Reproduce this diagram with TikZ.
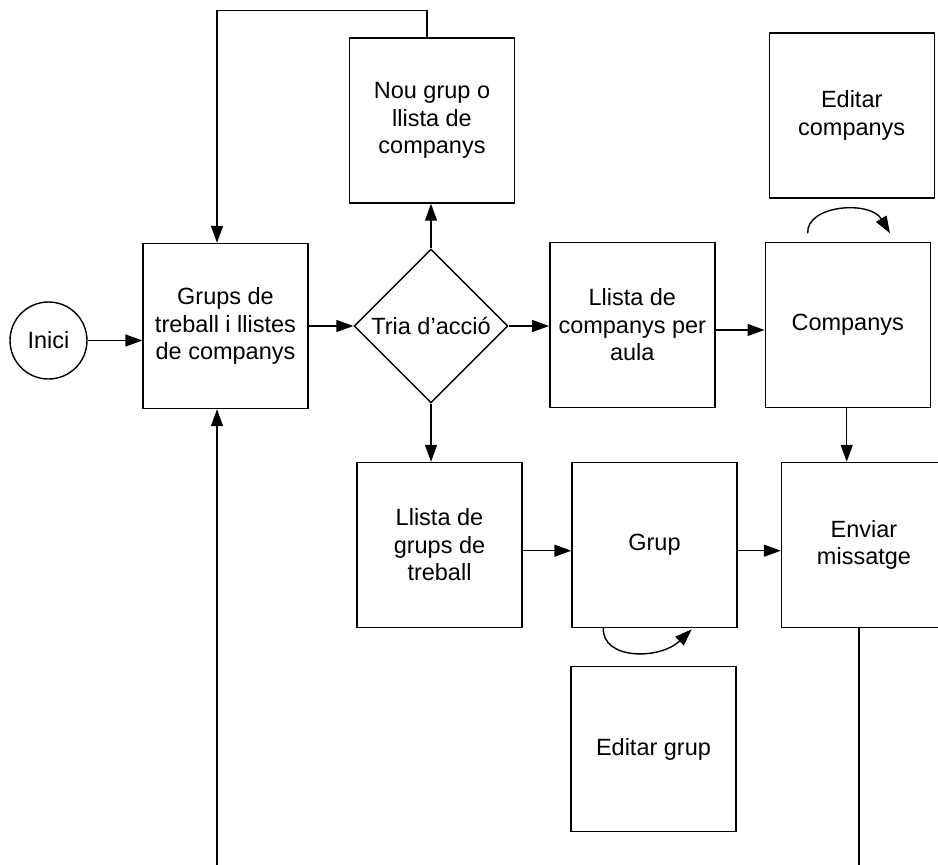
\documentclass[tikz,border=0pt]{standalone}
\usepackage{fontspec}
\setmainfont{Liberation Sans}
\usetikzlibrary{arrows.meta,shapes.geometric}
\begin{document}
\begin{tikzpicture}[x=1pt,y=-1pt,
  line width=1.4pt,
  every node/.style={font=\fontsize{23.5}{27.5}\selectfont, align=center, inner sep=0pt},
  procbox/.style={draw, rectangle, minimum width=165pt, minimum height=165pt},
  decision/.style={draw, diamond, aspect=1, minimum width=154pt, minimum height=154pt},
  terminal/.style={draw, circle, minimum size=77pt},
  arr/.style={-{Triangle[length=17pt,width=12pt]}}
]
\useasboundingbox (0,0) rectangle (938,865);
\clip (0,0) rectangle (938,865);

% nodes
\node[terminal] (inici) at (48.5,340.5) {Inici};
\node[procbox] (grups) at (225.5,326) {Grups de\\treball i llistes\\de companys};
\node[decision] (tria) at (431,326) {Tria d’acció};
\node[procbox] (nou) at (432,120.5) {Nou grup o\\llista de\\companys};
\node[procbox] (llcomp) at (632.3,325) {Llista de\\companys per\\aula};
\node[procbox] (companys) at (847.7,325) {Companys};
\node[procbox] (edcomp) at (851.7,115.3) {Editar\\companys};
\node[procbox] (llgrups) at (439.5,545) {Llista de\\grups de\\treball};
\node[procbox] (grup) at (654.5,545) {Grup};
\node[procbox] (enviar) at (864,545) {Enviar\\missatge};
\node[procbox] (edgrup) at (653.5,749) {Editar grup};

% free ends of connectors
\coordinate (loopL) at (217,10.7);
\coordinate (botL) at (217,865);
\coordinate (botR) at (859,865);
\coordinate (cA) at (807.7,233.3);
\coordinate (cB) at (890,233.3);
\coordinate (gA) at (603.3,628);
\coordinate (gB) at (691.7,629.3);

% connectors
\draw[arr] (inici.east) -- (inici.east -| grups.west);
\draw[arr] (grups.east) -- (tria.west);
\draw[arr] (tria.north) -- (tria.north |- nou.south);
\draw[arr] (tria.east) -- (tria.east -| llcomp.west);
\draw[arr] ([yshift=-5pt]llcomp.east) -- ([yshift=-5pt]llcomp.east -| companys.west);
\draw[arr] (tria.south) -- (tria.south |- llgrups.north);
\draw[arr] ([yshift=-5.7pt]llgrups.east) -- ([yshift=-5.7pt]llgrups.east -| grup.west);
\draw[arr] ([yshift=-5.7pt]grup.east) -- ([yshift=-5.7pt]grup.east -| enviar.west);
\draw[arr] ([xshift=-1pt]companys.south) -- ([xshift=-1pt]companys.south |- enviar.north);
\draw[arr] ([xshift=-5pt]nou.north) |- (loopL) -- (loopL |- grups.north);
\draw[arr] (botL) -- (botL |- grups.south);
\draw (botR |- enviar.south) -- (botR);

% self-loops to the edit boxes
\draw[arr] (cA) .. controls (806,205) and (870,200) .. (cB);
\draw[arr] (gA) .. controls (602,660) and (660,660) .. (gB);
\end{tikzpicture}
\end{document}
